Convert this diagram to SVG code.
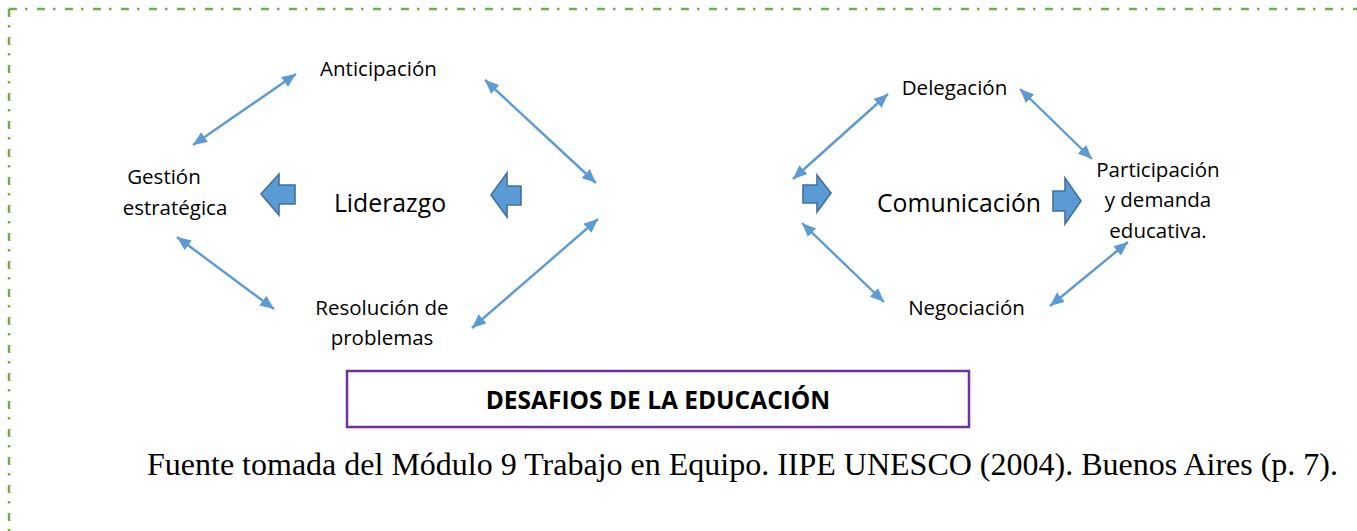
<svg xmlns="http://www.w3.org/2000/svg" width="1357" height="531" viewBox="0 0 1357 531">
<style>
.lbl{font-family:"Open Sans","Noto Sans",sans-serif;font-size:20.5px;fill:#000;text-anchor:middle}
.big{font-family:"Open Sans","Noto Sans",sans-serif;font-size:24.8px;fill:#000;text-anchor:middle}
.title{font-family:"Open Sans","Noto Sans",sans-serif;font-size:24.5px;font-weight:bold;fill:#000;text-anchor:middle}
.cap{font-family:"Liberation Serif","Times New Roman",serif;font-size:32px;fill:#000}
.con line{stroke:#5B9BD5;stroke-width:2.4;marker-start:url(#ah);marker-end:url(#ah)}
.blk{fill:#5B9BD5;stroke:#41719C;stroke-width:1.6;stroke-linejoin:miter}
.frame{stroke:#70AD47;stroke-width:2.5;fill:none;stroke-dasharray:8 8 2.5 9.5}
</style>
<defs>
<marker id="ah" markerUnits="userSpaceOnUse" markerWidth="15" markerHeight="13" refX="14" refY="6" orient="auto-start-reverse" viewBox="0 0 15 13">
<path d="M0,0 L14,6 L0,12 z" fill="#5B9BD5"/>
</marker>
</defs>
<rect width="1357" height="531" fill="#fff"/>
<g id="frame">
<line class="frame" x1="9" y1="9" x2="1357" y2="9"/>
<line class="frame" x1="9" y1="9" x2="9" y2="531"/>
</g>
<g class="con" id="connectors">
<line x1="193" y1="145" x2="296" y2="74"/>
<line x1="177" y1="237" x2="274" y2="309"/>
<line x1="485" y1="80" x2="596" y2="183"/>
<line x1="598" y1="219" x2="472" y2="328"/>
<line x1="888" y1="94" x2="793" y2="179"/>
<line x1="1020" y1="89" x2="1092" y2="159"/>
<line x1="802" y1="223" x2="884" y2="302"/>
<line x1="1050" y1="306" x2="1128" y2="242"/>
</g>
<g id="block-arrows">
<polygon class="blk" points="261,194 279,174 279,185 295,185 295,204 279,204 279,215"/>
<polygon class="blk" points="491,195 507,173 507,186 521,186 521,205 507,205 507,217"/>
<polygon class="blk" points="831,193 817,175 817,185 803,185 803,203 817,203 817,212"/>
<polygon class="blk" points="1081,201 1065,178 1065,191 1053,191 1053,211 1065,211 1065,224"/>
</g>
<g id="anticipacion"><text class="lbl" x="378.5" y="76">Anticipación</text></g>
<g id="gestion"><text class="lbl" x="164" y="184">Gestión</text><text class="lbl" x="175" y="215">estratégica</text></g>
<g id="liderazgo"><text class="big" x="390" y="212">Liderazgo</text></g>
<g id="resolucion"><text class="lbl" x="382" y="315">Resolución de</text><text class="lbl" x="382" y="345">problemas</text></g>
<g id="delegacion"><text class="lbl" x="954.5" y="95">Delegación</text></g>
<g id="comunicacion"><text class="big" x="959" y="212">Comunicación</text></g>
<g id="participacion"><text class="lbl" x="1158" y="177">Participación</text><text class="lbl" x="1158" y="207">y demanda</text><text class="lbl" x="1158" y="238">educativa.</text></g>
<g id="negociacion"><text class="lbl" x="966.5" y="315">Negociación</text></g>
<g id="desafios">
<rect x="347" y="371" width="622" height="56" fill="#fff" stroke="#7030A0" stroke-width="2.5"/>
<text class="title" x="658" y="409">DESAFIOS DE LA EDUCACIÓN</text>
</g>
<text class="cap" x="147" y="475">Fuente tomada del Módulo 9 Trabajo en Equipo. IIPE UNESCO (2004). Buenos Aires (p. 7).</text>
</svg>
